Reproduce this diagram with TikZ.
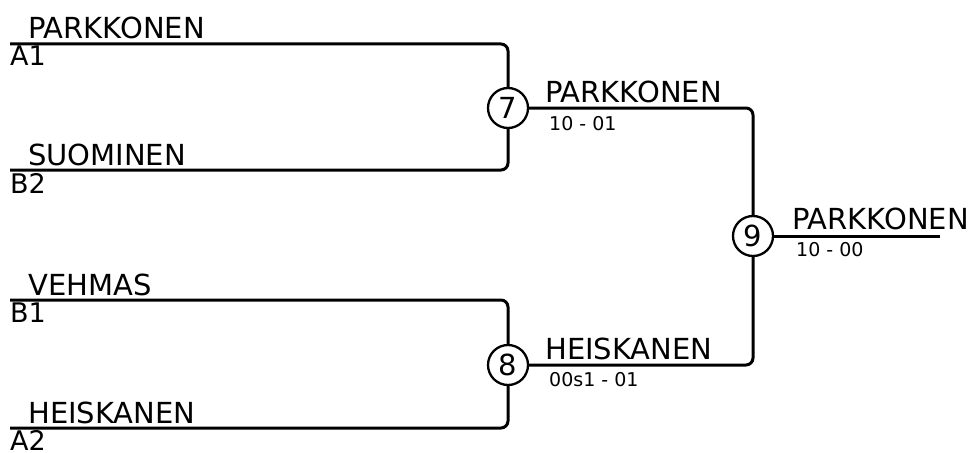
\documentclass[tikz,border=0pt]{standalone}
\usepackage{fontspec}
\setmainfont{DejaVu Sans}

\begin{document}
\begin{tikzpicture}[x=1pt,y=-1pt]
        \tikzstyle{every node}=[inner sep=0pt]
        \tikzstyle{player}=[anchor=base west,font=\fontsize{29}{32}\selectfont]
        \tikzstyle{seed}=[anchor=base west,font=\fontsize{27}{30}\selectfont]
        \tikzstyle{score}=[anchor=base west,font=\fontsize{19}{22}\selectfont]
        \tikzstyle{match}=[circle,draw,line width=2.3pt,minimum size=40pt,font=\fontsize{29}{32}\selectfont]
        \tikzstyle{bline}=[line width=3pt,rounded corners=7pt]
        \useasboundingbox (0,0) rectangle (968,452);
        % matches
        \node[match] (m7) at (508,108) {7};
        \node[match] (m8) at (508,365) {8};
        \node[match] (m9) at (753,236) {9};
        % first round
        \coordinate (a1) at (10,44);
        \coordinate (b2) at (10,170);
        \coordinate (b1) at (10,300);
        \coordinate (a2) at (10,428);
        \coordinate (fin) at (940,236);
        \node[player] (p1) at (28,38) {PARKKONEN};
        \node[seed] (s1) at (10,66) {A1};
        \node[player] (p2) at (28,165) {SUOMINEN};
        \node[seed] (s2) at (10,193) {B2};
        \node[player] (p3) at (28,295) {VEHMAS};
        \node[seed] (s3) at (10,322) {B1};
        \node[player] (p4) at (28,423) {HEISKANEN};
        \node[seed] (s4) at (10,450) {A2};
        % winners
        \node[player] (w7) at (545,102) {PARKKONEN};
        \node[score] (r7) at (549,130) {10 - 01};
        \node[player] (w8) at (545,359) {HEISKANEN};
        \node[score] (r8) at (549,386) {00s1 - 01};
        \node[player] (w9) at (792,229) {PARKKONEN};
        \node[score] (r9) at (796,256) {10 - 00};
        % bracket lines
        \draw[bline] (a1) -| (m7);
        \draw[bline] (b2) -| (m7);
        \draw[bline] (b1) -| (m8);
        \draw[bline] (a2) -| (m8);
        \draw[bline] (m7) -| (m9);
        \draw[bline] (m8) -| (m9);
        \draw[bline] (m9) -- (fin);
\end{tikzpicture}
\end{document}
